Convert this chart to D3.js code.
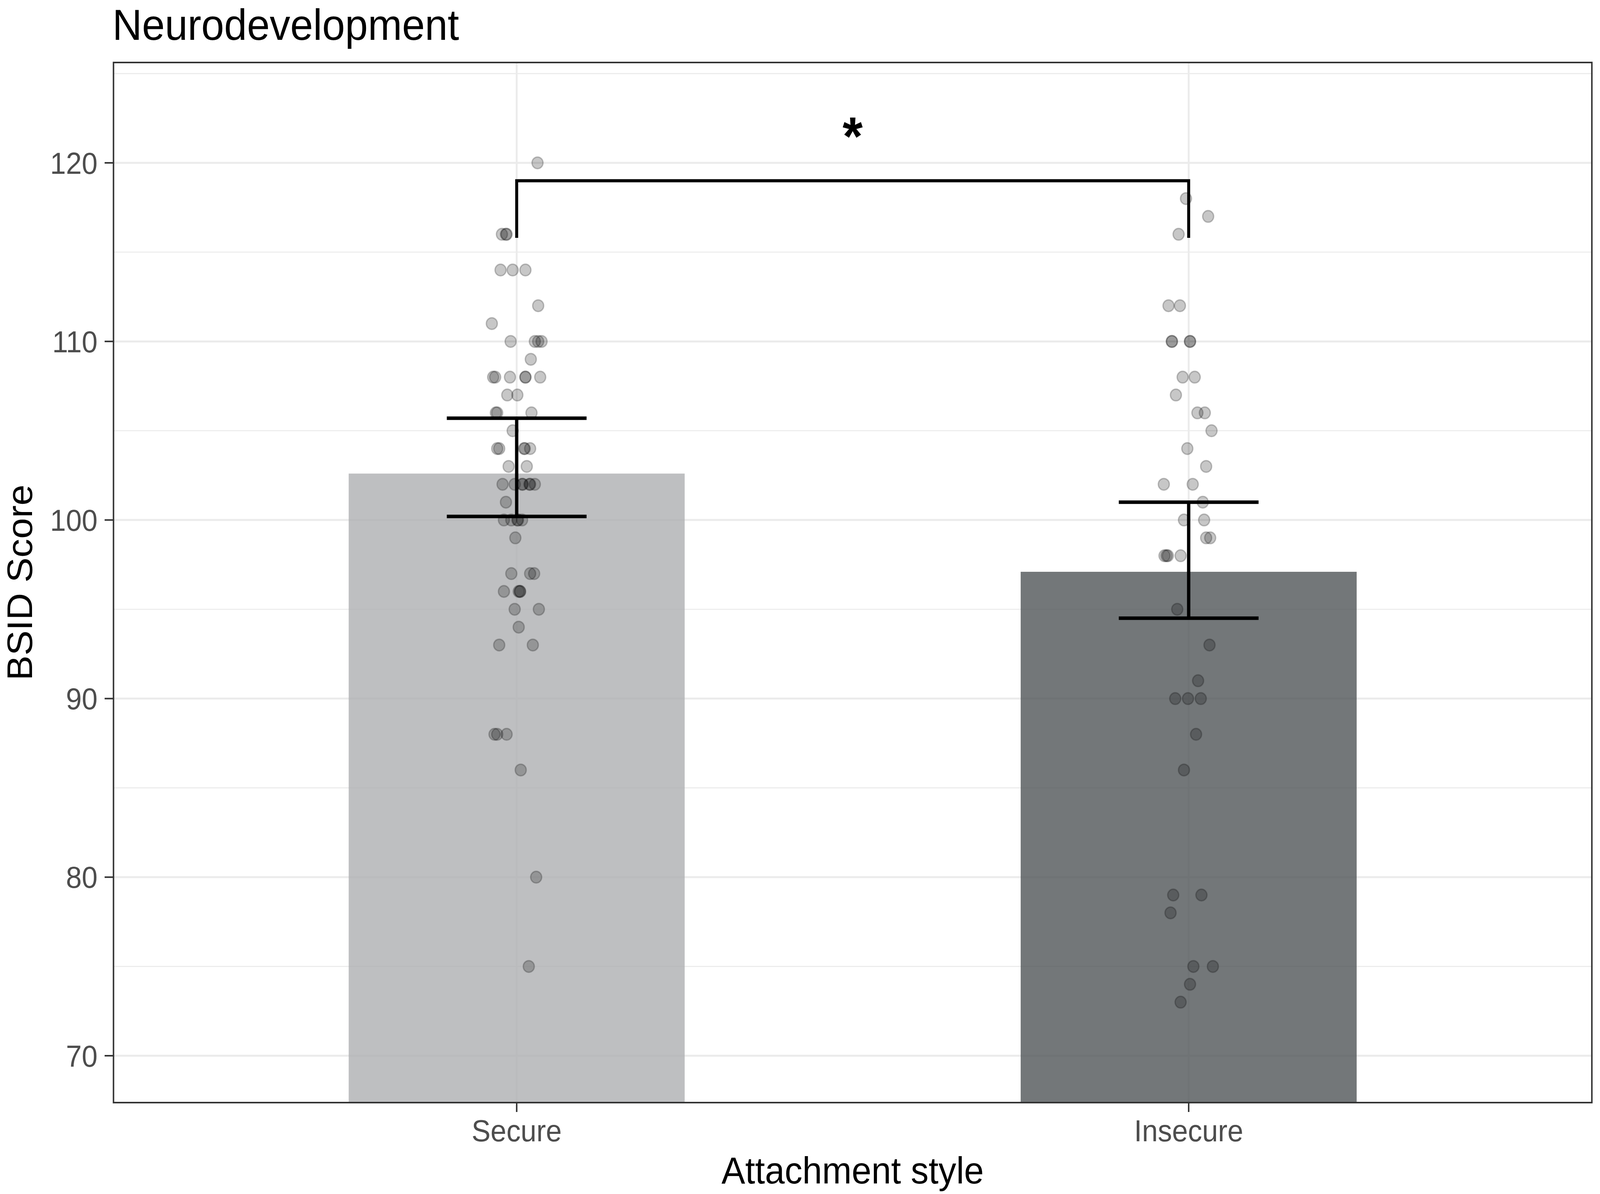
<!DOCTYPE html>
<html>
<head>
<meta charset="utf-8">
<script src="https://cdn.jsdelivr.net/npm/d3@7"></script>
<style>
  html, body { margin: 0; padding: 0; overflow: hidden; background: #fff; }
  svg { display: block; }
  text { font-family: "Liberation Sans", Arial, sans-serif; }
</style>
</head>
<body>
<svg id="graphic-container"></svg>
<script>
const categories = ["Secure", "Insecure"];
const barMeans = [102.6, 97.1];
const errLow = [100.2, 94.5];
const errHigh = [105.7, 101.0];
const barFills = ["rgb(174,175,178)", "rgb(80,85,88)"];
const yMajor = [70, 80, 90, 100, 110, 120];
const yMinor = [75, 85, 95, 105, 115, 125];
const signif = { from: 0, to: 1, top: 119, tip: 115.8, label: "*" };

// [score, jitter in category units]
const secureDots = [
  [120, 0.031],
  [116, -0.022], [116, -0.016], [116, -0.015],
  [114, -0.024], [114, -0.006], [114, 0.013],
  [112, 0.032],
  [111, -0.037],
  [110, -0.009], [110, 0.027], [110, 0.032], [110, 0.037],
  [109, 0.021],
  [108, -0.035], [108, -0.032], [108, -0.01], [108, 0.013], [108, 0.013], [108, 0.035],
  [107, -0.014], [107, 0.001],
  [106, -0.031], [106, -0.029], [106, 0.022],
  [105, -0.006],
  [104, -0.029], [104, -0.026], [104, 0.011], [104, 0.012], [104, 0.02],
  [103, -0.012], [103, 0.015],
  [102, -0.021], [102, -0.003], [102, 0.008], [102, 0.009], [102, 0.019], [102, 0.02], [102, 0.027],
  [101, -0.016],
  [100, -0.019], [100, -0.008], [100, 0.001], [100, 0.002], [100, 0.008],
  [99, -0.002],
  [97, -0.008], [97, 0.02], [97, 0.026],
  [96, -0.019], [96, 0.003], [96, 0.005], [96, 0.005],
  [95, -0.003], [95, 0.033],
  [94, 0.003],
  [93, -0.026], [93, 0.024],
  [88, -0.033], [88, -0.029], [88, -0.015],
  [86, 0.006],
  [80, 0.029],
  [75, 0.018]
];
const insecureDots = [
  [118, -0.004],
  [117, 0.029],
  [116, -0.015],
  [112, -0.03], [112, -0.013],
  [110, -0.025], [110, -0.025], [110, 0.002], [110, 0.002],
  [108, -0.009], [108, 0.009],
  [107, -0.019],
  [106, 0.013], [106, 0.024],
  [105, 0.034],
  [104, -0.002],
  [103, 0.026],
  [102, -0.037], [102, 0.006],
  [101, 0.021],
  [100, -0.007], [100, 0.023],
  [99, 0.026], [99, 0.032],
  [98, -0.036], [98, -0.033], [98, -0.031], [98, -0.012],
  [95, -0.017],
  [93, 0.031],
  [91, 0.014],
  [90, -0.02], [90, -0.001], [90, 0.018],
  [88, 0.011],
  [86, -0.007],
  [79, -0.023], [79, 0.019],
  [78, -0.027],
  [75, 0.007], [75, 0.036],
  [74, 0.002],
  [73, -0.012]
];

const W = 4328,
  H = 3057;
// fit the drawing to whatever viewport the browser actually gives
const $svg = d3.select("#graphic-container")
  .attr("viewBox", `0 0 ${W} ${H}`)
  .attr("preserveAspectRatio", "none")
  .attr("width", window.innerWidth || W)
  .attr("height", window.innerHeight || H);

const panel = { left: 307, right: 4306, top: 160, bottom: 2823 };
const barWidth = 0.5,
  errWidth = 0.104;

// discrete axis like ggplot: 0.6 units of expansion each side
const x = d3.scaleLinear().domain([0.4, categories.length + 0.6]).range([panel.left, panel.right]);
const y = d3.scaleLinear().domain([67.375, 125.62]).range([panel.bottom, panel.top]);

$svg.append("rect").attr("width", W).attr("height", H).attr("fill", "#fff");

// grid
const grid = $svg.append("g").attr("id", "grid");
grid.selectAll(".minor")
  .data(yMinor)
  .join("line")
  .attr("class", "minor")
  .attr("x1", panel.left).attr("x2", panel.right)
  .attr("y1", d => y(d)).attr("y2", d => y(d))
  .attr("stroke", "#ebebeb").attr("stroke-width", 2.6);
grid.selectAll(".major")
  .data(yMajor)
  .join("line")
  .attr("class", "major")
  .attr("x1", panel.left).attr("x2", panel.right)
  .attr("y1", d => y(d)).attr("y2", d => y(d))
  .attr("stroke", "#ebebeb").attr("stroke-width", 5);
grid.selectAll(".vmajor")
  .data(categories)
  .join("line")
  .attr("class", "vmajor")
  .attr("x1", (d, i) => x(i + 1)).attr("x2", (d, i) => x(i + 1))
  .attr("y1", panel.top).attr("y2", panel.bottom)
  .attr("stroke", "#ebebeb").attr("stroke-width", 5);

// bars
$svg.append("g").attr("id", "bars")
  .selectAll("rect")
  .data(barMeans)
  .join("rect")
  .attr("x", (d, i) => x(i + 1 - barWidth / 2))
  .attr("width", (d, i) => x(i + 1 + barWidth / 2) - x(i + 1 - barWidth / 2))
  .attr("y", d => y(d))
  .attr("height", d => y.range()[0] - y(d))
  .attr("fill", (d, i) => barFills[i])
  .attr("fill-opacity", 0.8);

// jittered points
const dots = [secureDots, insecureDots];
const dotGroup = $svg.append("g").attr("id", "dots");
dots.forEach((set, i) => {
  dotGroup.selectAll(`.dot-${i}`)
    .data(set)
    .join("circle")
    .attr("class", `dot-${i}`)
    .attr("cx", d => x(i + 1 + d[1]))
    .attr("cy", d => y(d[0]))
    .attr("r", 15)
    .attr("fill", "#000").attr("fill-opacity", 0.22)
    .attr("stroke", "#000").attr("stroke-opacity", 0.22)
    .attr("stroke-width", 3.5);
});

// error bars
const errGroup = $svg.append("g").attr("id", "errorbars")
  .attr("stroke", "#000").attr("stroke-width", 9).attr("fill", "none");
categories.forEach((c, i) => {
  const cx = x(i + 1),
    xl = x(i + 1 - errWidth),
    xr = x(i + 1 + errWidth);
  errGroup.append("path")
    .attr("d", `M${xl},${y(errHigh[i])}H${xr}M${cx},${y(errHigh[i])}V${y(errLow[i])}M${xl},${y(errLow[i])}H${xr}`);
});

// significance bracket
const x1 = x(signif.from + 1),
  x2 = x(signif.to + 1);
$svg.append("path")
  .attr("d", `M${x1},${y(signif.tip)}V${y(signif.top)}H${x2}V${y(signif.tip)}`)
  .attr("fill", "none").attr("stroke", "#000").attr("stroke-width", 8);
$svg.append("text")
  .text(signif.label)
  .attr("x", (x1 + x2) / 2)
  .attr("y", 397)
  .attr("text-anchor", "middle")
  .attr("font-size", 140)
  .attr("font-weight", "bold")
  .attr("fill", "#000");

// panel border
$svg.append("rect")
  .attr("x", panel.left).attr("y", panel.top)
  .attr("width", panel.right - panel.left).attr("height", panel.bottom - panel.top)
  .attr("fill", "none").attr("stroke", "#333").attr("stroke-width", 4);

// y axis
const yAxis = $svg.append("g").attr("id", "y-axis");
yAxis.selectAll("line")
  .data(yMajor)
  .join("line")
  .attr("x1", panel.left - 24).attr("x2", panel.left)
  .attr("y1", d => y(d)).attr("y2", d => y(d))
  .attr("stroke", "#333").attr("stroke-width", 4);
yAxis.selectAll("text")
  .data(yMajor)
  .join("text")
  .text(d => d)
  .attr("x", panel.left - 43)
  .attr("y", d => y(d))
  .attr("dy", "0.36em")
  .attr("text-anchor", "end")
  .attr("font-size", 77)
  .attr("fill", "#4d4d4d");

// x axis
const xAxis = $svg.append("g").attr("id", "x-axis");
xAxis.selectAll("line")
  .data(categories)
  .join("line")
  .attr("x1", (d, i) => x(i + 1)).attr("x2", (d, i) => x(i + 1))
  .attr("y1", panel.bottom).attr("y2", panel.bottom + 24)
  .attr("stroke", "#333").attr("stroke-width", 4);
xAxis.selectAll("text")
  .data(categories)
  .join("text")
  .text(d => d)
  .attr("x", (d, i) => x(i + 1))
  .attr("y", 2922)
  .attr("text-anchor", "middle")
  .attr("font-size", 77)
  .attr("fill", "#4d4d4d");

// titles
$svg.append("text")
  .text("Attachment style")
  .attr("x", (panel.left + panel.right) / 2)
  .attr("y", 3030)
  .attr("text-anchor", "middle")
  .attr("font-size", 96)
  .attr("fill", "#000");
$svg.append("text")
  .text("BSID Score")
  .attr("transform", `translate(87,${(panel.top + panel.bottom) / 2}) rotate(-90)`)
  .attr("text-anchor", "middle")
  .attr("font-size", 96)
  .attr("fill", "#000");
$svg.append("text")
  .text("Neurodevelopment")
  .attr("x", 304)
  .attr("y", 102)
  .attr("font-size", 111)
  .attr("fill", "#000");
</script>
</body>
</html>
